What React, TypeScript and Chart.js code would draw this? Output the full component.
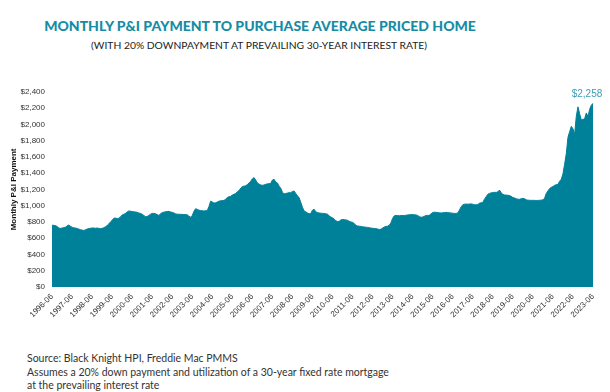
import React, { useEffect, useRef } from 'react';
import { Chart, registerables } from 'chart.js';

Chart.register(...registerables);

// Monthly P&I payment, each array runs June of the named year through May of the next
const pay1996 = [760, 758, 755, 745, 728, 720, 725, 730, 735, 750, 762, 748];
const pay1997 = [735, 728, 725, 720, 712, 705, 700, 695, 703, 712, 718, 722];
const pay1998 = [725, 726, 722, 725, 722, 716, 722, 728, 740, 755, 775, 800];
const pay1999 = [820, 845, 848, 840, 845, 862, 885, 895, 905, 922, 935, 932];
const pay2000 = [928, 925, 922, 918, 910, 905, 895, 880, 865, 868, 880, 895];
const pay2001 = [905, 905, 900, 890, 880, 900, 915, 920, 925, 928, 930, 922];
const pay2002 = [918, 910, 900, 895, 895, 893, 893, 890, 890, 888, 870, 858];
const pay2003 = [880, 930, 962, 955, 945, 940, 938, 935, 938, 940, 990, 1055];
const pay2004 = [1045, 1032, 1035, 1045, 1055, 1060, 1062, 1065, 1080, 1100, 1110, 1115];
const pay2005 = [1130, 1140, 1150, 1170, 1185, 1215, 1235, 1240, 1245, 1260, 1280, 1300];
const pay2006 = [1330, 1345, 1315, 1280, 1265, 1255, 1250, 1255, 1262, 1268, 1270, 1275];
const pay2007 = [1315, 1325, 1290, 1280, 1240, 1215, 1165, 1145, 1150, 1155, 1160, 1160];
const pay2008 = [1175, 1180, 1150, 1120, 1100, 1040, 980, 935, 925, 910, 900, 905];
const pay2009 = [945, 955, 925, 915, 910, 908, 905, 905, 900, 895, 875, 860];
const pay2010 = [850, 835, 815, 805, 808, 825, 830, 828, 825, 820, 808, 800];
const pay2011 = [795, 780, 760, 750, 748, 745, 740, 738, 735, 733, 728, 725];
const pay2012 = [722, 720, 718, 712, 708, 710, 725, 738, 745, 748, 760, 790];
const pay2013 = [845, 875, 880, 878, 876, 878, 880, 878, 882, 886, 888, 890];
const pay2014 = [890, 888, 886, 880, 865, 858, 860, 870, 878, 880, 882, 900];
const pay2015 = [915, 920, 918, 915, 912, 910, 912, 915, 918, 915, 912, 910];
const pay2016 = [908, 905, 905, 910, 945, 985, 1010, 1018, 1020, 1018, 1020, 1022];
const pay2017 = [1018, 1012, 1010, 1015, 1030, 1035, 1040, 1080, 1110, 1140, 1150, 1158];
const pay2018 = [1160, 1165, 1162, 1170, 1192, 1160, 1140, 1132, 1130, 1128, 1125, 1115];
const pay2019 = [1100, 1095, 1085, 1080, 1078, 1085, 1090, 1085, 1072, 1068, 1066, 1065];
const pay2020 = [1066, 1065, 1064, 1065, 1066, 1068, 1072, 1090, 1150, 1180, 1210, 1225];
const pay2021 = [1235, 1250, 1258, 1262, 1300, 1325, 1390, 1510, 1640, 1840, 1910, 1975];
const pay2022 = [1945, 1880, 2100, 2215, 2130, 2055, 2060, 2070, 2140, 2095, 2185, 2235, 2258]; // Jun 2022 - Jun 2023

const START_YEAR = 1996;
const START_MONTH = 6;

const payments = [
  ...pay1996, ...pay1997, ...pay1998, ...pay1999, ...pay2000, ...pay2001, ...pay2002,
  ...pay2003, ...pay2004, ...pay2005, ...pay2006, ...pay2007, ...pay2008, ...pay2009,
  ...pay2010, ...pay2011, ...pay2012, ...pay2013, ...pay2014, ...pay2015, ...pay2016,
  ...pay2017, ...pay2018, ...pay2019, ...pay2020, ...pay2021, ...pay2022,
];

const monthLabels = payments.map((_, i) => {
  const t = START_MONTH - 1 + i;
  const y = START_YEAR + Math.floor(t / 12);
  const m = (t % 12) + 1;
  return `${y}-${m < 10 ? '0' + m : m}`;
});

const TITLE = 'MONTHLY P&I PAYMENT TO PURCHASE AVERAGE PRICED HOME';
const SUBTITLE = '(WITH 20% DOWNPAYMENT AT PREVAILING 30-YEAR INTEREST RATE)';
const Y_TITLE = 'Monthly P&I Payment';
const FOOTER = [
  'Source: Black Knight HPI, Freddie Mac PMMS',
  'Assumes a 20% down payment and utilization of a 30-year fixed rate mortgage',
  'at the prevailing interest rate',
];

const TEAL = '#00819A';
const TITLE_TEAL = '#168CA4';
const LABEL_TEAL = '#3C9DB5';

const lastLabelPlugin = {
  id: 'lastLabel',
  afterDatasetsDraw(chart: any) {
    const meta = chart.getDatasetMeta(0);
    const pt = meta.data[meta.data.length - 1];
    const val = payments[payments.length - 1];
    const ctx = chart.ctx;
    ctx.save();
    ctx.font = '10px "Liberation Sans", Arial, sans-serif';
    ctx.fillStyle = LABEL_TEAL;
    ctx.textAlign = 'center';
    ctx.textBaseline = 'middle';
    ctx.fillText('$' + val.toLocaleString('en-US'), pt.x - 6, pt.y - 9);
    ctx.restore();
  },
};

export default function App() {
  const canvasRef = useRef<HTMLCanvasElement | null>(null);

  useEffect(() => {
    if (!canvasRef.current) return;
    const chart = new Chart(canvasRef.current, {
      type: 'line',
      data: {
        labels: monthLabels,
        datasets: [
          {
            data: payments,
            fill: 'origin',
            backgroundColor: TEAL,
            borderColor: TEAL,
            borderWidth: 1,
            pointRadius: 0,
            tension: 0,
          },
        ],
      },
      options: {
        animation: false,
        responsive: false,
        maintainAspectRatio: false,
        layout: { padding: { top: 10, right: 17, left: 0, bottom: 0 } },
        plugins: {
          legend: { display: false },
          tooltip: { enabled: false },
        },
        scales: {
          x: {
            grid: { display: false, drawTicks: false },
            border: { display: false },
            ticks: {
              autoSkip: false,
              minRotation: 45,
              maxRotation: 45,
              padding: 5,
              color: '#333',
              font: { family: '"Liberation Sans", Arial, sans-serif', size: 8 },
              callback: (_v: any, i: number) =>
                monthLabels[i].endsWith('-06') ? monthLabels[i] : null,
            },
            afterFit: (s: any) => {
              s.height = 43;
            },
          },
          y: {
            min: 0,
            max: 2400,
            grid: { display: false, drawTicks: false },
            border: { display: false },
            ticks: {
              stepSize: 200,
              padding: 7,
              color: '#333',
              font: { family: '"Liberation Sans", Arial, sans-serif', size: 8 },
              callback: (v: any) => '$' + Number(v).toLocaleString('en-US'),
            },
            title: {
              display: true,
              text: Y_TITLE,
              color: '#111',
              font: { family: '"Liberation Sans", Arial, sans-serif', size: 8, weight: 'bold' },
              padding: { top: 9, bottom: 0 },
            },
            afterFit: (s: any) => {
              s.width = 52;
            },
          },
        },
      },
      plugins: [lastLabelPlugin],
    } as any);
    return () => chart.destroy();
  }, []);

  return (
    <div
      style={{
        position: 'absolute',
        left: 0,
        top: 0,
        width: 610,
        height: 392,
        background: '#fff',
        fontFamily: 'Lato, "Open Sans", sans-serif',
        overflow: 'hidden',
      }}
    >
      <div
        style={{
          position: 'absolute',
          left: 0,
          top: 17,
          width: 520,
          textAlign: 'center',
          fontSize: 14,
          lineHeight: '17px',
          fontWeight: 900,
          color: TITLE_TEAL,
          whiteSpace: 'nowrap',
        }}
      >
        {TITLE}
      </div>
      <div
        style={{
          position: 'absolute',
          left: 0,
          top: 39,
          width: 518,
          textAlign: 'center',
          fontSize: 10.3,
          lineHeight: '13px',
          color: '#222',
          whiteSpace: 'nowrap',
        }}
      >
        {SUBTITLE}
      </div>
      <canvas
        ref={canvasRef}
        width={610}
        height={250}
        style={{ position: 'absolute', left: 0, top: 80, width: 610, height: 250, display: 'block' }}
      />
      <div
        style={{
          position: 'absolute',
          left: 27,
          top: 352,
          fontSize: 10.5,
          lineHeight: '13.5px',
          color: '#333',
          whiteSpace: 'nowrap',
        }}
      >
        {FOOTER.map((line) => (
          <div key={line}>{line}</div>
        ))}
      </div>
    </div>
  );
}
